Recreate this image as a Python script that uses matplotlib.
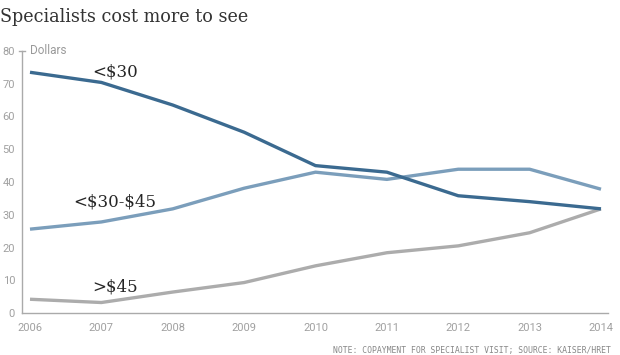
import matplotlib
matplotlib.use("Agg")
import matplotlib.pyplot as plt

years = [2006, 2007, 2008, 2009, 2010, 2011, 2012, 2013, 2014]
under30 = [73.5, 70.4, 63.5, 55.2, 45.0, 43.0, 35.8, 34.0, 31.8]
mid30_45 = [25.6, 27.8, 31.8, 38.1, 43.0, 40.8, 43.9, 43.9, 37.8]
over45 = [4.2, 3.2, 6.4, 9.3, 14.4, 18.4, 20.5, 24.5, 31.8]
yticks = [0, 10, 20, 30, 40, 50, 60, 70, 80]

tick_font = "Roboto"

fig = plt.figure(figsize=(6.2, 3.55), dpi=100)
ax = fig.add_axes([22/620, 1-313/355, (608-22)/620, (313-51)/355])

c_dark = "#3b6a90"
c_mid = "#7b9ebb"
c_gray = "#acacac"
ax.plot(years, under30, color=c_dark, lw=2.4, solid_capstyle="butt", zorder=3)
ax.plot(years, mid30_45, color=c_mid, lw=2.4, solid_capstyle="butt", zorder=2)
ax.plot(years, over45, color=c_gray, lw=2.4, solid_capstyle="butt", zorder=1)

ax.set_xlim(2005.888, 2014.098)
ax.set_ylim(0, 80)
for s in ["top", "right"]:
    ax.spines[s].set_visible(False)
for s in ["left", "bottom"]:
    ax.spines[s].set_color("#aaaaaa")
    ax.spines[s].set_linewidth(1.0)

ax.set_yticks(yticks)
ax.set_yticklabels([str(v) for v in yticks])
ax.set_xticks(years)
ax.set_xticklabels([str(y) for y in years])
ax.tick_params(axis="both", length=0, labelcolor="#a0a0a0", labelsize=8)
ax.tick_params(axis="y", pad=5)
ax.tick_params(axis="x", pad=7)
for lab in ax.get_xticklabels() + ax.get_yticklabels():
    lab.set_fontfamily(tick_font)

# T-shaped tick at 80
ax.plot([2005.888 - 3/71.4, 2005.888 + 3/71.4], [80, 80], color="#aaaaaa", lw=1.0,
        clip_on=False)
ax.text(2006.0, 80, "Dollars", color="#9a9a9a", fontsize=8.5, va="center", ha="left",
        fontfamily=tick_font)

serif = "DejaVu Serif"
ax.text(2006.87, 73.5, r"<\$30", fontsize=12, color="#262626", va="center", ha="left",
        fontfamily=serif)
ax.text(2006.6, 33.8, r"<\$30-\$45", fontsize=12, color="#262626", va="center", ha="left",
        fontfamily=serif)
ax.text(2006.87, 7.9, r">\$45", fontsize=12, color="#262626", va="center", ha="left",
        fontfamily=serif)

fig.text(0/620, 1-17/355, "Specialists cost more to see", fontsize=14, color="#333333",
         va="center", ha="left", fontfamily=serif, fontstretch="condensed")
fig.text(611/620, 1-350/355, "NOTE: COPAYMENT FOR SPECIALIST VISIT; SOURCE: KAISER/HRET",
         fontsize=5.9, color="#888888", va="center", ha="right",
         fontfamily="DejaVu Sans Mono")

fig.savefig("out.png", dpi=100)
